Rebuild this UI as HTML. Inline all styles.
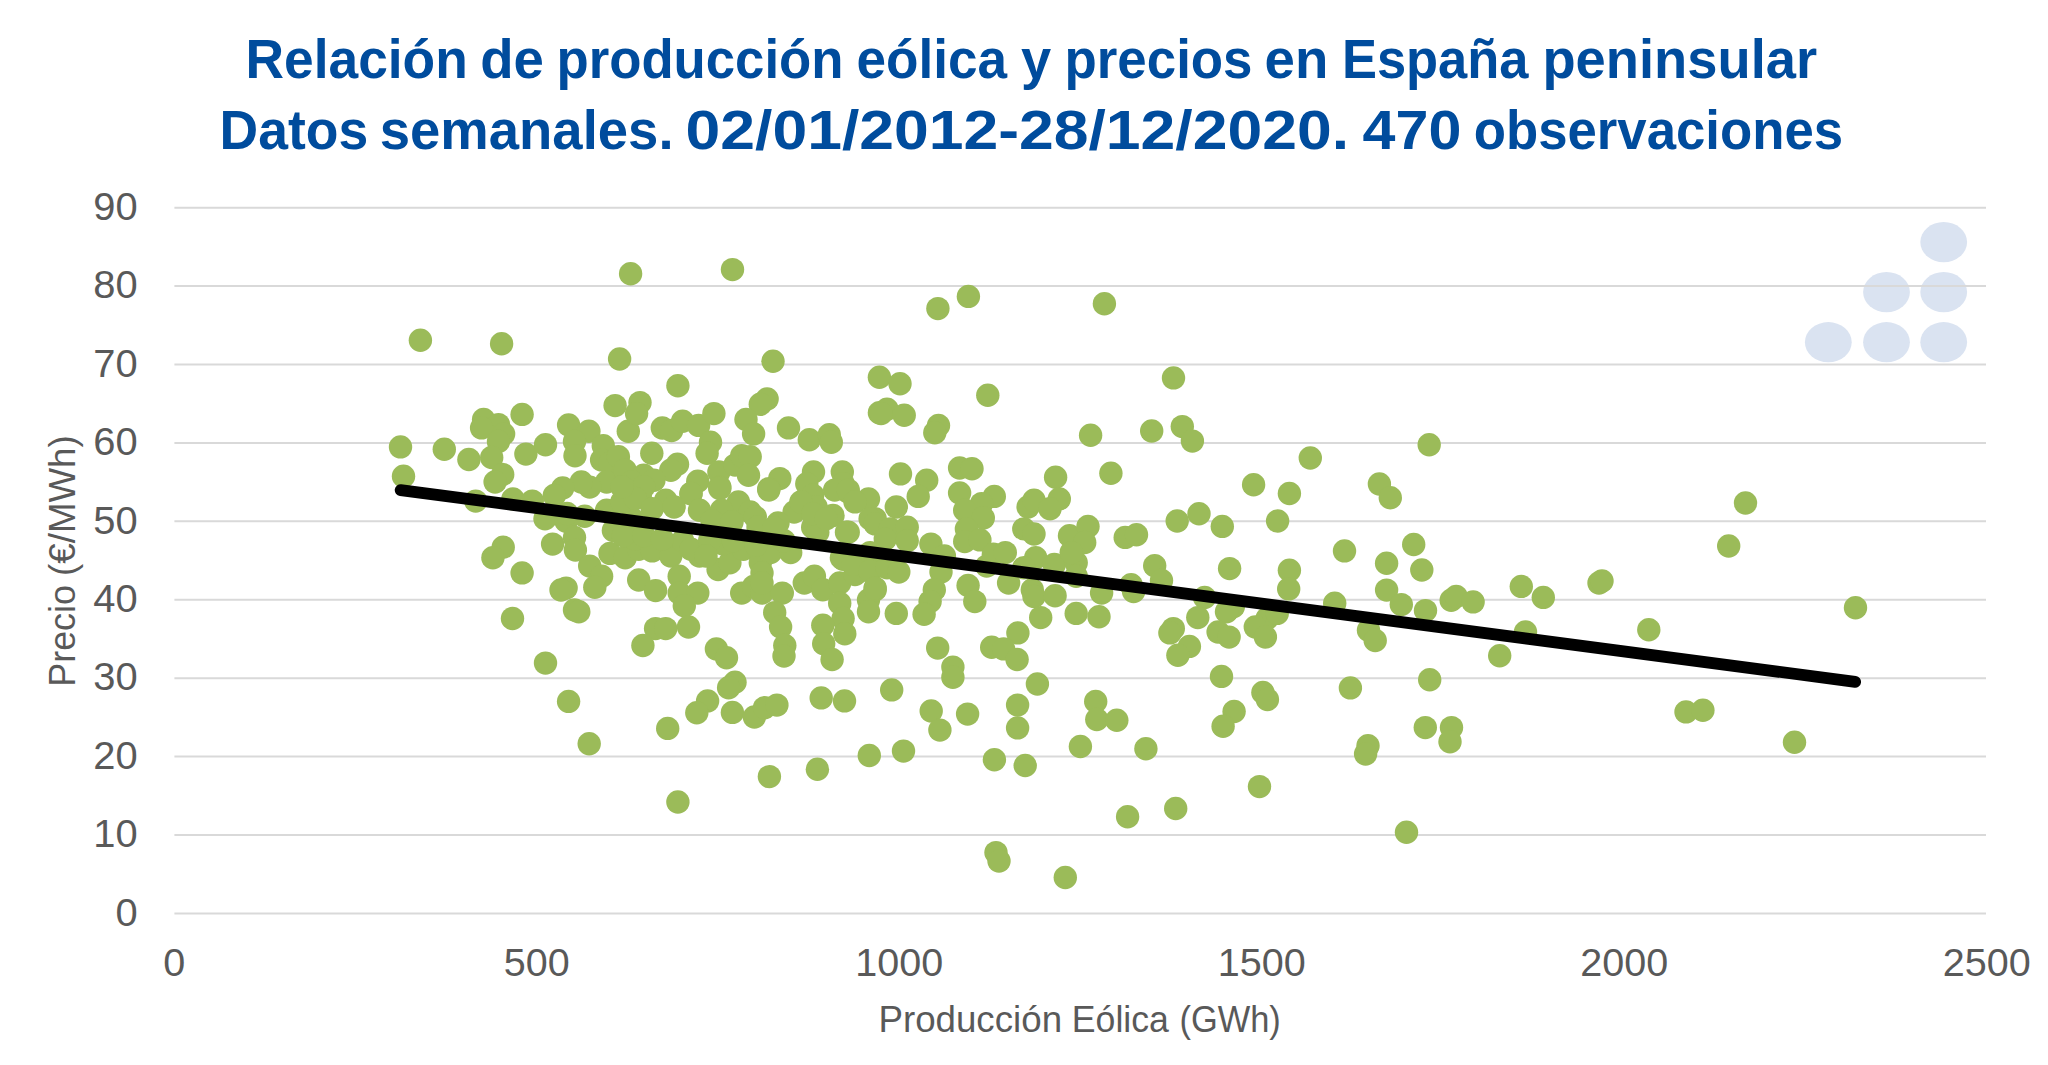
<!DOCTYPE html><html><head><meta charset="utf-8"><title>Relación de producción eólica y precios en España peninsular</title><style>html,body{margin:0;padding:0;background:#fff;}body{width:2048px;height:1065px;overflow:hidden;}svg{display:block;}text{font-family:"Liberation Sans",Arial,sans-serif;}</style></head><body>
<svg width="2048" height="1065" viewBox="0 0 2048 1065">
<rect width="2048" height="1065" fill="#fff"/>
<g fill="#DAE3F1">
<ellipse cx="1943.7" cy="242.1" rx="23.4" ry="20.1"/>
<ellipse cx="1886.5" cy="292.1" rx="23.4" ry="20.1"/>
<ellipse cx="1943.7" cy="292.1" rx="23.4" ry="20.1"/>
<ellipse cx="1828.3" cy="342.2" rx="23.4" ry="20.1"/>
<ellipse cx="1886.5" cy="342.2" rx="23.4" ry="20.1"/>
<ellipse cx="1943.7" cy="342.2" rx="23.4" ry="20.1"/>
</g>
<g stroke="#D9D9D9" stroke-width="2">
<line x1="174.4" y1="913.4" x2="1986" y2="913.4"/>
<line x1="174.4" y1="835.0" x2="1986" y2="835.0"/>
<line x1="174.4" y1="756.6" x2="1986" y2="756.6"/>
<line x1="174.4" y1="678.2" x2="1986" y2="678.2"/>
<line x1="174.4" y1="599.8" x2="1986" y2="599.8"/>
<line x1="174.4" y1="521.3" x2="1986" y2="521.3"/>
<line x1="174.4" y1="442.9" x2="1986" y2="442.9"/>
<line x1="174.4" y1="364.5" x2="1986" y2="364.5"/>
<line x1="174.4" y1="286.1" x2="1986" y2="286.1"/>
<line x1="174.4" y1="207.7" x2="1986" y2="207.7"/>
</g>
<g fill="#595959" font-size="38" text-anchor="end">
<text x="137.6" y="925.6" textLength="22.2" lengthAdjust="spacingAndGlyphs">0</text>
<text x="137.6" y="847.2" textLength="44.4" lengthAdjust="spacingAndGlyphs">10</text>
<text x="137.6" y="768.8" textLength="44.4" lengthAdjust="spacingAndGlyphs">20</text>
<text x="137.6" y="690.4" textLength="44.4" lengthAdjust="spacingAndGlyphs">30</text>
<text x="137.6" y="612.0" textLength="44.4" lengthAdjust="spacingAndGlyphs">40</text>
<text x="137.6" y="533.5" textLength="44.4" lengthAdjust="spacingAndGlyphs">50</text>
<text x="137.6" y="455.1" textLength="44.4" lengthAdjust="spacingAndGlyphs">60</text>
<text x="137.6" y="376.7" textLength="44.4" lengthAdjust="spacingAndGlyphs">70</text>
<text x="137.6" y="298.3" textLength="44.4" lengthAdjust="spacingAndGlyphs">80</text>
<text x="137.6" y="219.9" textLength="44.4" lengthAdjust="spacingAndGlyphs">90</text>
</g>
<g fill="#595959" font-size="38" text-anchor="middle">
<text x="174.3" y="975.8" textLength="22.0" lengthAdjust="spacingAndGlyphs">0</text>
<text x="536.8" y="975.8" textLength="65.9" lengthAdjust="spacingAndGlyphs">500</text>
<text x="899.3" y="975.8" textLength="87.9" lengthAdjust="spacingAndGlyphs">1000</text>
<text x="1261.8" y="975.8" textLength="87.9" lengthAdjust="spacingAndGlyphs">1500</text>
<text x="1624.3" y="975.8" textLength="87.9" lengthAdjust="spacingAndGlyphs">2000</text>
<text x="1986.8" y="975.8" textLength="87.9" lengthAdjust="spacingAndGlyphs">2500</text>
</g>
<g fill="#595959" font-size="36">
<text x="878.44" y="1032.3" textLength="183.61" lengthAdjust="spacingAndGlyphs">Producción</text>
<text x="1071.83" y="1032.3" textLength="97.13" lengthAdjust="spacingAndGlyphs">Eólica</text>
<text x="1179.49" y="1032.3" textLength="101.31" lengthAdjust="spacingAndGlyphs">(GWh)</text>
<g transform="translate(74.7,0) rotate(-90)">
<text x="-686.69" y="0" textLength="101.63" lengthAdjust="spacingAndGlyphs">Precio</text>
<text x="-575.94" y="0" textLength="140.68" lengthAdjust="spacingAndGlyphs">(€/MWh)</text>
</g></g>
<g fill="#9BBB59">
<circle cx="420.4" cy="340.3" r="11.7"/>
<circle cx="501.6" cy="343.7" r="11.7"/>
<circle cx="630.6" cy="273.8" r="11.7"/>
<circle cx="732.5" cy="269.6" r="11.7"/>
<circle cx="937.9" cy="308.6" r="11.7"/>
<circle cx="968.4" cy="296.4" r="11.7"/>
<circle cx="1104.4" cy="303.8" r="11.7"/>
<circle cx="619.6" cy="359.0" r="11.7"/>
<circle cx="400.5" cy="446.9" r="11.7"/>
<circle cx="403.5" cy="476.3" r="11.7"/>
<circle cx="444.3" cy="449.2" r="11.7"/>
<circle cx="468.9" cy="459.5" r="11.7"/>
<circle cx="483.6" cy="419.5" r="11.7"/>
<circle cx="498.5" cy="424.6" r="11.7"/>
<circle cx="481.6" cy="427.9" r="11.7"/>
<circle cx="503.6" cy="433.9" r="11.7"/>
<circle cx="498.5" cy="441.5" r="11.7"/>
<circle cx="491.7" cy="457.5" r="11.7"/>
<circle cx="502.7" cy="474.4" r="11.7"/>
<circle cx="495.1" cy="482.0" r="11.7"/>
<circle cx="522.1" cy="414.4" r="11.7"/>
<circle cx="525.9" cy="454.1" r="11.7"/>
<circle cx="545.5" cy="444.8" r="11.7"/>
<circle cx="568.6" cy="424.9" r="11.7"/>
<circle cx="588.9" cy="431.3" r="11.7"/>
<circle cx="574.5" cy="441.5" r="11.7"/>
<circle cx="575.0" cy="455.8" r="11.7"/>
<circle cx="603.3" cy="445.7" r="11.7"/>
<circle cx="601.6" cy="460.0" r="11.7"/>
<circle cx="615.1" cy="405.6" r="11.7"/>
<circle cx="628.3" cy="431.3" r="11.7"/>
<circle cx="610.0" cy="463.4" r="11.7"/>
<circle cx="623.5" cy="471.9" r="11.7"/>
<circle cx="606.6" cy="482.0" r="11.7"/>
<circle cx="589.7" cy="487.1" r="11.7"/>
<circle cx="581.3" cy="482.0" r="11.7"/>
<circle cx="562.7" cy="487.9" r="11.7"/>
<circle cx="554.3" cy="495.5" r="11.7"/>
<circle cx="512.9" cy="498.9" r="11.7"/>
<circle cx="618.4" cy="456.7" r="11.7"/>
<circle cx="625.1" cy="470.2" r="11.7"/>
<circle cx="773.0" cy="361.2" r="11.7"/>
<circle cx="677.9" cy="385.7" r="11.7"/>
<circle cx="879.4" cy="377.2" r="11.7"/>
<circle cx="640.0" cy="402.6" r="11.7"/>
<circle cx="636.6" cy="413.6" r="11.7"/>
<circle cx="662.3" cy="428.0" r="11.7"/>
<circle cx="671.6" cy="430.5" r="11.7"/>
<circle cx="682.6" cy="421.2" r="11.7"/>
<circle cx="698.6" cy="425.4" r="11.7"/>
<circle cx="713.9" cy="413.6" r="11.7"/>
<circle cx="710.5" cy="442.3" r="11.7"/>
<circle cx="707.1" cy="453.3" r="11.7"/>
<circle cx="767.1" cy="398.9" r="11.7"/>
<circle cx="760.3" cy="404.3" r="11.7"/>
<circle cx="746.0" cy="419.5" r="11.7"/>
<circle cx="753.6" cy="433.9" r="11.7"/>
<circle cx="788.5" cy="427.9" r="11.7"/>
<circle cx="809.3" cy="439.8" r="11.7"/>
<circle cx="829.3" cy="434.7" r="11.7"/>
<circle cx="831.3" cy="442.3" r="11.7"/>
<circle cx="879.4" cy="412.7" r="11.7"/>
<circle cx="651.8" cy="453.3" r="11.7"/>
<circle cx="677.5" cy="464.3" r="11.7"/>
<circle cx="670.8" cy="470.2" r="11.7"/>
<circle cx="643.7" cy="475.3" r="11.7"/>
<circle cx="653.9" cy="480.3" r="11.7"/>
<circle cx="631.9" cy="482.0" r="11.7"/>
<circle cx="697.8" cy="481.2" r="11.7"/>
<circle cx="691.0" cy="493.8" r="11.7"/>
<circle cx="718.9" cy="471.9" r="11.7"/>
<circle cx="719.8" cy="487.1" r="11.7"/>
<circle cx="735.0" cy="465.1" r="11.7"/>
<circle cx="741.7" cy="455.8" r="11.7"/>
<circle cx="750.2" cy="456.7" r="11.7"/>
<circle cx="748.5" cy="475.3" r="11.7"/>
<circle cx="779.8" cy="478.6" r="11.7"/>
<circle cx="768.8" cy="488.8" r="11.7"/>
<circle cx="813.5" cy="471.9" r="11.7"/>
<circle cx="806.8" cy="483.7" r="11.7"/>
<circle cx="842.3" cy="471.9" r="11.7"/>
<circle cx="843.1" cy="483.7" r="11.7"/>
<circle cx="848.2" cy="492.1" r="11.7"/>
<circle cx="868.5" cy="498.9" r="11.7"/>
<circle cx="640.3" cy="495.5" r="11.7"/>
<circle cx="900.0" cy="383.7" r="11.7"/>
<circle cx="987.8" cy="395.3" r="11.7"/>
<circle cx="887.0" cy="409.3" r="11.7"/>
<circle cx="881.1" cy="413.6" r="11.7"/>
<circle cx="904.2" cy="415.3" r="11.7"/>
<circle cx="938.5" cy="425.4" r="11.7"/>
<circle cx="934.8" cy="432.7" r="11.7"/>
<circle cx="1090.6" cy="435.2" r="11.7"/>
<circle cx="900.5" cy="473.9" r="11.7"/>
<circle cx="926.7" cy="480.3" r="11.7"/>
<circle cx="959.6" cy="468.0" r="11.7"/>
<circle cx="972.0" cy="468.8" r="11.7"/>
<circle cx="1055.6" cy="477.3" r="11.7"/>
<circle cx="1110.9" cy="473.2" r="11.7"/>
<circle cx="918.2" cy="496.4" r="11.7"/>
<circle cx="959.6" cy="493.0" r="11.7"/>
<circle cx="994.3" cy="496.4" r="11.7"/>
<circle cx="1059.3" cy="498.9" r="11.7"/>
<circle cx="1173.5" cy="377.9" r="11.7"/>
<circle cx="1151.7" cy="431.0" r="11.7"/>
<circle cx="1182.3" cy="426.6" r="11.7"/>
<circle cx="1192.4" cy="441.1" r="11.7"/>
<circle cx="1310.3" cy="458.0" r="11.7"/>
<circle cx="1253.6" cy="484.7" r="11.7"/>
<circle cx="1289.4" cy="493.5" r="11.7"/>
<circle cx="1379.4" cy="484.0" r="11.7"/>
<circle cx="1429.2" cy="444.8" r="11.7"/>
<circle cx="1390.3" cy="497.7" r="11.7"/>
<circle cx="475.7" cy="501.1" r="11.7"/>
<circle cx="532.3" cy="501.1" r="11.7"/>
<circle cx="545.0" cy="518.8" r="11.7"/>
<circle cx="566.1" cy="521.3" r="11.7"/>
<circle cx="584.7" cy="516.3" r="11.7"/>
<circle cx="574.5" cy="537.4" r="11.7"/>
<circle cx="552.6" cy="544.1" r="11.7"/>
<circle cx="575.4" cy="550.1" r="11.7"/>
<circle cx="606.6" cy="510.3" r="11.7"/>
<circle cx="613.4" cy="530.6" r="11.7"/>
<circle cx="610.0" cy="553.4" r="11.7"/>
<circle cx="625.2" cy="557.7" r="11.7"/>
<circle cx="628.6" cy="535.7" r="11.7"/>
<circle cx="632.0" cy="518.8" r="11.7"/>
<circle cx="638.7" cy="549.2" r="11.7"/>
<circle cx="503.2" cy="547.2" r="11.7"/>
<circle cx="492.9" cy="557.7" r="11.7"/>
<circle cx="522.1" cy="572.9" r="11.7"/>
<circle cx="589.7" cy="566.1" r="11.7"/>
<circle cx="601.6" cy="576.2" r="11.7"/>
<circle cx="594.8" cy="587.2" r="11.7"/>
<circle cx="566.1" cy="588.1" r="11.7"/>
<circle cx="574.5" cy="610.0" r="11.7"/>
<circle cx="578.8" cy="611.7" r="11.7"/>
<circle cx="512.5" cy="618.5" r="11.7"/>
<circle cx="643.7" cy="486.7" r="11.7"/>
<circle cx="665.7" cy="500.2" r="11.7"/>
<circle cx="691.0" cy="493.4" r="11.7"/>
<circle cx="719.8" cy="488.4" r="11.7"/>
<circle cx="738.4" cy="501.9" r="11.7"/>
<circle cx="750.2" cy="512.0" r="11.7"/>
<circle cx="755.3" cy="517.1" r="11.7"/>
<circle cx="768.8" cy="490.1" r="11.7"/>
<circle cx="794.1" cy="512.0" r="11.7"/>
<circle cx="812.7" cy="495.1" r="11.7"/>
<circle cx="816.1" cy="507.0" r="11.7"/>
<circle cx="833.0" cy="515.4" r="11.7"/>
<circle cx="834.7" cy="490.1" r="11.7"/>
<circle cx="848.2" cy="490.1" r="11.7"/>
<circle cx="873.5" cy="520.5" r="11.7"/>
<circle cx="848.2" cy="532.3" r="11.7"/>
<circle cx="635.3" cy="539.1" r="11.7"/>
<circle cx="652.2" cy="550.9" r="11.7"/>
<circle cx="670.8" cy="556.0" r="11.7"/>
<circle cx="682.6" cy="540.8" r="11.7"/>
<circle cx="679.2" cy="576.2" r="11.7"/>
<circle cx="699.5" cy="556.0" r="11.7"/>
<circle cx="718.1" cy="569.5" r="11.7"/>
<circle cx="729.9" cy="562.7" r="11.7"/>
<circle cx="723.1" cy="544.1" r="11.7"/>
<circle cx="743.4" cy="549.2" r="11.7"/>
<circle cx="760.3" cy="562.7" r="11.7"/>
<circle cx="770.5" cy="552.6" r="11.7"/>
<circle cx="790.7" cy="552.6" r="11.7"/>
<circle cx="762.0" cy="572.9" r="11.7"/>
<circle cx="784.0" cy="540.8" r="11.7"/>
<circle cx="812.7" cy="527.2" r="11.7"/>
<circle cx="817.8" cy="532.3" r="11.7"/>
<circle cx="843.1" cy="559.3" r="11.7"/>
<circle cx="856.6" cy="572.9" r="11.7"/>
<circle cx="871.8" cy="556.0" r="11.7"/>
<circle cx="621.8" cy="501.9" r="11.7"/>
<circle cx="635.3" cy="498.5" r="11.7"/>
<circle cx="652.2" cy="508.7" r="11.7"/>
<circle cx="674.1" cy="507.0" r="11.7"/>
<circle cx="699.5" cy="510.3" r="11.7"/>
<circle cx="721.5" cy="510.3" r="11.7"/>
<circle cx="623.4" cy="535.7" r="11.7"/>
<circle cx="643.7" cy="535.7" r="11.7"/>
<circle cx="662.3" cy="539.1" r="11.7"/>
<circle cx="691.0" cy="549.2" r="11.7"/>
<circle cx="709.6" cy="540.8" r="11.7"/>
<circle cx="733.3" cy="540.8" r="11.7"/>
<circle cx="638.7" cy="580.0" r="11.7"/>
<circle cx="655.6" cy="590.6" r="11.7"/>
<circle cx="679.2" cy="593.1" r="11.7"/>
<circle cx="697.8" cy="593.1" r="11.7"/>
<circle cx="684.3" cy="605.8" r="11.7"/>
<circle cx="741.7" cy="593.1" r="11.7"/>
<circle cx="753.6" cy="586.4" r="11.7"/>
<circle cx="762.0" cy="593.1" r="11.7"/>
<circle cx="782.3" cy="593.1" r="11.7"/>
<circle cx="762.0" cy="583.0" r="11.7"/>
<circle cx="774.7" cy="612.6" r="11.7"/>
<circle cx="780.6" cy="627.0" r="11.7"/>
<circle cx="784.8" cy="645.5" r="11.7"/>
<circle cx="804.3" cy="583.0" r="11.7"/>
<circle cx="814.4" cy="576.2" r="11.7"/>
<circle cx="822.8" cy="589.8" r="11.7"/>
<circle cx="839.7" cy="583.0" r="11.7"/>
<circle cx="839.7" cy="603.3" r="11.7"/>
<circle cx="843.1" cy="618.5" r="11.7"/>
<circle cx="822.8" cy="625.3" r="11.7"/>
<circle cx="844.8" cy="633.7" r="11.7"/>
<circle cx="823.7" cy="643.8" r="11.7"/>
<circle cx="855.0" cy="574.6" r="11.7"/>
<circle cx="868.5" cy="599.9" r="11.7"/>
<circle cx="875.2" cy="589.8" r="11.7"/>
<circle cx="868.5" cy="611.7" r="11.7"/>
<circle cx="841.4" cy="557.7" r="11.7"/>
<circle cx="853.3" cy="564.4" r="11.7"/>
<circle cx="878.6" cy="566.1" r="11.7"/>
<circle cx="655.6" cy="628.6" r="11.7"/>
<circle cx="665.7" cy="628.6" r="11.7"/>
<circle cx="688.5" cy="627.0" r="11.7"/>
<circle cx="642.9" cy="645.5" r="11.7"/>
<circle cx="716.4" cy="648.9" r="11.7"/>
<circle cx="800.9" cy="501.9" r="11.7"/>
<circle cx="812.7" cy="513.7" r="11.7"/>
<circle cx="826.2" cy="518.8" r="11.7"/>
<circle cx="855.0" cy="501.9" r="11.7"/>
<circle cx="875.2" cy="518.8" r="11.7"/>
<circle cx="846.5" cy="532.3" r="11.7"/>
<circle cx="896.3" cy="507.0" r="11.7"/>
<circle cx="981.6" cy="503.6" r="11.7"/>
<circle cx="964.7" cy="510.3" r="11.7"/>
<circle cx="983.3" cy="518.0" r="11.7"/>
<circle cx="966.4" cy="528.9" r="11.7"/>
<circle cx="964.7" cy="541.6" r="11.7"/>
<circle cx="979.9" cy="539.9" r="11.7"/>
<circle cx="1028.1" cy="507.0" r="11.7"/>
<circle cx="1034.0" cy="500.2" r="11.7"/>
<circle cx="1050.0" cy="508.7" r="11.7"/>
<circle cx="1023.8" cy="528.9" r="11.7"/>
<circle cx="1034.0" cy="534.0" r="11.7"/>
<circle cx="1069.5" cy="535.7" r="11.7"/>
<circle cx="1088.0" cy="526.4" r="11.7"/>
<circle cx="1084.7" cy="542.5" r="11.7"/>
<circle cx="1125.2" cy="537.4" r="11.7"/>
<circle cx="870.1" cy="518.8" r="11.7"/>
<circle cx="875.1" cy="523.9" r="11.7"/>
<circle cx="890.3" cy="528.9" r="11.7"/>
<circle cx="907.2" cy="527.2" r="11.7"/>
<circle cx="885.3" cy="539.1" r="11.7"/>
<circle cx="907.2" cy="540.8" r="11.7"/>
<circle cx="930.9" cy="544.1" r="11.7"/>
<circle cx="944.4" cy="556.0" r="11.7"/>
<circle cx="870.1" cy="552.6" r="11.7"/>
<circle cx="870.1" cy="571.2" r="11.7"/>
<circle cx="887.0" cy="567.8" r="11.7"/>
<circle cx="898.8" cy="572.0" r="11.7"/>
<circle cx="875.1" cy="588.1" r="11.7"/>
<circle cx="941.0" cy="572.0" r="11.7"/>
<circle cx="934.3" cy="589.8" r="11.7"/>
<circle cx="930.1" cy="601.6" r="11.7"/>
<circle cx="924.1" cy="614.3" r="11.7"/>
<circle cx="896.3" cy="613.4" r="11.7"/>
<circle cx="968.1" cy="585.5" r="11.7"/>
<circle cx="974.8" cy="601.6" r="11.7"/>
<circle cx="986.7" cy="566.1" r="11.7"/>
<circle cx="993.4" cy="554.3" r="11.7"/>
<circle cx="1005.3" cy="552.6" r="11.7"/>
<circle cx="1008.6" cy="583.0" r="11.7"/>
<circle cx="1035.7" cy="557.7" r="11.7"/>
<circle cx="1023.8" cy="567.8" r="11.7"/>
<circle cx="1032.3" cy="589.8" r="11.7"/>
<circle cx="1034.0" cy="596.5" r="11.7"/>
<circle cx="1054.3" cy="564.4" r="11.7"/>
<circle cx="1055.1" cy="595.7" r="11.7"/>
<circle cx="1040.7" cy="617.6" r="11.7"/>
<circle cx="1076.2" cy="562.7" r="11.7"/>
<circle cx="1076.2" cy="576.2" r="11.7"/>
<circle cx="1071.2" cy="552.6" r="11.7"/>
<circle cx="1101.6" cy="593.1" r="11.7"/>
<circle cx="1076.2" cy="613.4" r="11.7"/>
<circle cx="1099.0" cy="616.8" r="11.7"/>
<circle cx="1017.9" cy="632.9" r="11.7"/>
<circle cx="991.7" cy="647.2" r="11.7"/>
<circle cx="1003.6" cy="648.9" r="11.7"/>
<circle cx="937.7" cy="648.1" r="11.7"/>
<circle cx="1136.5" cy="534.8" r="11.7"/>
<circle cx="1177.2" cy="521.0" r="11.7"/>
<circle cx="1199.0" cy="513.7" r="11.7"/>
<circle cx="1222.3" cy="526.4" r="11.7"/>
<circle cx="1277.6" cy="521.0" r="11.7"/>
<circle cx="1344.5" cy="550.9" r="11.7"/>
<circle cx="1154.7" cy="565.8" r="11.7"/>
<circle cx="1161.5" cy="580.5" r="11.7"/>
<circle cx="1131.1" cy="584.7" r="11.7"/>
<circle cx="1133.6" cy="591.5" r="11.7"/>
<circle cx="1229.6" cy="568.6" r="11.7"/>
<circle cx="1289.4" cy="570.3" r="11.7"/>
<circle cx="1288.7" cy="588.9" r="11.7"/>
<circle cx="1204.6" cy="597.4" r="11.7"/>
<circle cx="1233.3" cy="606.7" r="11.7"/>
<circle cx="1226.5" cy="611.7" r="11.7"/>
<circle cx="1197.8" cy="617.6" r="11.7"/>
<circle cx="1267.1" cy="618.5" r="11.7"/>
<circle cx="1277.2" cy="613.4" r="11.7"/>
<circle cx="1334.7" cy="603.3" r="11.7"/>
<circle cx="1173.3" cy="628.6" r="11.7"/>
<circle cx="1169.9" cy="632.9" r="11.7"/>
<circle cx="1189.4" cy="646.4" r="11.7"/>
<circle cx="1218.1" cy="632.0" r="11.7"/>
<circle cx="1229.1" cy="637.1" r="11.7"/>
<circle cx="1255.3" cy="627.0" r="11.7"/>
<circle cx="1265.4" cy="637.1" r="11.7"/>
<circle cx="1368.5" cy="630.3" r="11.7"/>
<circle cx="1375.2" cy="640.5" r="11.7"/>
<circle cx="1413.7" cy="544.5" r="11.7"/>
<circle cx="1386.6" cy="563.2" r="11.7"/>
<circle cx="1421.8" cy="570.0" r="11.7"/>
<circle cx="1386.6" cy="590.1" r="11.7"/>
<circle cx="1401.3" cy="604.6" r="11.7"/>
<circle cx="1425.5" cy="610.6" r="11.7"/>
<circle cx="1451.2" cy="600.2" r="11.7"/>
<circle cx="1456.2" cy="596.5" r="11.7"/>
<circle cx="1473.1" cy="601.9" r="11.7"/>
<circle cx="1521.3" cy="586.4" r="11.7"/>
<circle cx="1543.3" cy="597.4" r="11.7"/>
<circle cx="1599.0" cy="583.0" r="11.7"/>
<circle cx="1525.5" cy="632.0" r="11.7"/>
<circle cx="1745.5" cy="503.0" r="11.7"/>
<circle cx="1728.7" cy="546.0" r="11.7"/>
<circle cx="1855.5" cy="607.7" r="11.7"/>
<circle cx="1648.8" cy="629.7" r="11.7"/>
<circle cx="545.5" cy="663.1" r="11.7"/>
<circle cx="568.6" cy="701.4" r="11.7"/>
<circle cx="589.2" cy="743.7" r="11.7"/>
<circle cx="726.5" cy="657.8" r="11.7"/>
<circle cx="784.0" cy="656.1" r="11.7"/>
<circle cx="832.1" cy="659.5" r="11.7"/>
<circle cx="735.0" cy="682.3" r="11.7"/>
<circle cx="728.6" cy="687.7" r="11.7"/>
<circle cx="707.6" cy="700.9" r="11.7"/>
<circle cx="696.8" cy="712.7" r="11.7"/>
<circle cx="667.7" cy="728.4" r="11.7"/>
<circle cx="732.4" cy="712.4" r="11.7"/>
<circle cx="754.4" cy="717.0" r="11.7"/>
<circle cx="764.5" cy="707.7" r="11.7"/>
<circle cx="776.9" cy="705.1" r="11.7"/>
<circle cx="821.2" cy="697.9" r="11.7"/>
<circle cx="844.5" cy="700.9" r="11.7"/>
<circle cx="869.3" cy="755.5" r="11.7"/>
<circle cx="817.4" cy="769.3" r="11.7"/>
<circle cx="769.4" cy="776.6" r="11.7"/>
<circle cx="677.9" cy="802.0" r="11.7"/>
<circle cx="952.9" cy="667.1" r="11.7"/>
<circle cx="952.9" cy="677.2" r="11.7"/>
<circle cx="1017.1" cy="659.5" r="11.7"/>
<circle cx="1037.4" cy="684.0" r="11.7"/>
<circle cx="891.7" cy="689.9" r="11.7"/>
<circle cx="931.2" cy="711.0" r="11.7"/>
<circle cx="939.9" cy="730.1" r="11.7"/>
<circle cx="967.6" cy="714.1" r="11.7"/>
<circle cx="1017.6" cy="705.1" r="11.7"/>
<circle cx="1017.6" cy="727.9" r="11.7"/>
<circle cx="1095.7" cy="701.4" r="11.7"/>
<circle cx="1096.8" cy="719.5" r="11.7"/>
<circle cx="1116.8" cy="720.3" r="11.7"/>
<circle cx="1080.4" cy="746.5" r="11.7"/>
<circle cx="903.5" cy="751.1" r="11.7"/>
<circle cx="994.4" cy="759.7" r="11.7"/>
<circle cx="1025.2" cy="765.5" r="11.7"/>
<circle cx="1177.9" cy="655.3" r="11.7"/>
<circle cx="1221.5" cy="676.4" r="11.7"/>
<circle cx="1262.9" cy="692.5" r="11.7"/>
<circle cx="1267.4" cy="699.5" r="11.7"/>
<circle cx="1234.1" cy="711.5" r="11.7"/>
<circle cx="1223.1" cy="726.2" r="11.7"/>
<circle cx="1350.4" cy="687.9" r="11.7"/>
<circle cx="1368.0" cy="745.7" r="11.7"/>
<circle cx="1365.6" cy="754.1" r="11.7"/>
<circle cx="1145.9" cy="748.7" r="11.7"/>
<circle cx="1259.5" cy="786.6" r="11.7"/>
<circle cx="1499.7" cy="655.8" r="11.7"/>
<circle cx="1429.7" cy="679.8" r="11.7"/>
<circle cx="1425.3" cy="727.6" r="11.7"/>
<circle cx="1451.5" cy="727.6" r="11.7"/>
<circle cx="1450.0" cy="741.8" r="11.7"/>
<circle cx="1686.0" cy="711.9" r="11.7"/>
<circle cx="1702.9" cy="710.2" r="11.7"/>
<circle cx="1794.5" cy="742.3" r="11.7"/>
<circle cx="996.0" cy="852.6" r="11.7"/>
<circle cx="999.0" cy="861.1" r="11.7"/>
<circle cx="1065.3" cy="877.5" r="11.7"/>
<circle cx="1127.6" cy="816.7" r="11.7"/>
<circle cx="1175.7" cy="808.5" r="11.7"/>
<circle cx="1406.5" cy="832.3" r="11.7"/>
<circle cx="1602.0" cy="581.0" r="11.7"/>
<circle cx="567.0" cy="513.5" r="11.7"/>
<circle cx="622.0" cy="487.0" r="11.7"/>
<circle cx="778.0" cy="523.0" r="11.7"/>
<circle cx="712.0" cy="521.0" r="11.7"/>
<circle cx="732.0" cy="522.0" r="11.7"/>
<circle cx="758.0" cy="527.0" r="11.7"/>
<circle cx="774.0" cy="528.0" r="11.7"/>
<circle cx="756.0" cy="545.0" r="11.7"/>
<circle cx="706.0" cy="556.0" r="11.7"/>
<circle cx="561.0" cy="590.0" r="11.7"/>
</g>
<line x1="400.6" y1="490.1" x2="1855.2" y2="681.9" stroke="#000" stroke-width="11.7" stroke-linecap="round"/>
<g fill="#004C9D" font-weight="bold" font-size="55">
<text x="245.52" y="78.3" textLength="222.23" lengthAdjust="spacingAndGlyphs">Relación</text>
<text x="480.21" y="78.3" textLength="63.76" lengthAdjust="spacingAndGlyphs">de</text>
<text x="556.47" y="78.3" textLength="287.04" lengthAdjust="spacingAndGlyphs">producción</text>
<text x="856.47" y="78.3" textLength="150.67" lengthAdjust="spacingAndGlyphs">eólica</text>
<text x="1020.91" y="78.3" textLength="30.17" lengthAdjust="spacingAndGlyphs">y</text>
<text x="1064.45" y="78.3" textLength="188.1" lengthAdjust="spacingAndGlyphs">precios</text>
<text x="1264.61" y="78.3" textLength="63.75" lengthAdjust="spacingAndGlyphs">en</text>
<text x="1341.88" y="78.3" textLength="186.69" lengthAdjust="spacingAndGlyphs">España</text>
<text x="1542.45" y="78.3" textLength="274.66" lengthAdjust="spacingAndGlyphs">peninsular</text>
<text x="219.61" y="148.8" textLength="148.65" lengthAdjust="spacingAndGlyphs">Datos</text>
<text x="379.72" y="148.8" textLength="293.84" lengthAdjust="spacingAndGlyphs">semanales.</text>
<text x="685.63" y="148.8" textLength="663.37" lengthAdjust="spacingAndGlyphs">02/01/2012-28/12/2020.</text>
<text x="1362.62" y="148.8" textLength="98.78" lengthAdjust="spacingAndGlyphs">470</text>
<text x="1473.78" y="148.8" textLength="369.33" lengthAdjust="spacingAndGlyphs">observaciones</text>
</g>
</svg></body></html>
